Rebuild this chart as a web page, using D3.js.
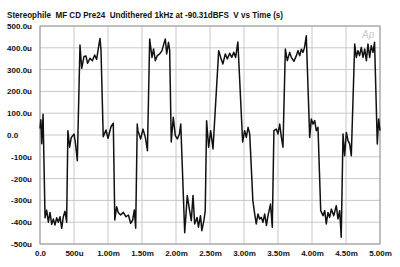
<!DOCTYPE html>
<html>
<head>
<meta charset="utf-8">
<script src="https://cdn.jsdelivr.net/npm/d3@7"></script>
<style>
  body { margin: 0; background: #fff; }
  text { font-family: "Liberation Sans", Arial, sans-serif; font-weight: bold; fill: #111; }
</style>
</head>
<body>
<svg id="chart" width="400" height="267"></svg>
<script>
// time in ms, voltage in microvolts
var timeMs = [0.000, 0.012, 0.025, 0.045, 0.060, 0.074, 0.098, 0.123, 0.147, 0.172, 0.196, 0.220, 0.245, 0.270, 0.294, 0.319, 0.343, 0.368, 0.392,
  0.410, 0.436, 0.460, 0.500, 0.520, 0.549, 0.588, 0.613, 0.647, 0.676, 0.700, 0.735, 0.770, 0.804, 0.833, 0.862, 0.882, 0.897,
  0.930, 0.970, 1.000, 1.044, 1.078, 1.100, 1.127, 1.150, 1.186, 1.225, 1.265, 1.300, 1.333, 1.363, 1.387, 1.407,
  1.430, 1.440, 1.480, 1.515, 1.550, 1.580, 1.613, 1.647, 1.670, 1.696, 1.725, 1.760, 1.794, 1.820, 1.843, 1.863, 1.890, 1.907,
  1.930, 1.960, 1.990, 2.020, 2.050, 2.070, 2.128, 2.166, 2.200, 2.225, 2.250, 2.275, 2.310, 2.330, 2.360, 2.380, 2.410, 2.430,
  2.450, 2.480, 2.510, 2.544, 2.628, 2.657, 2.690, 2.725, 2.755, 2.790, 2.820, 2.850, 2.877, 2.910,
  2.980, 3.010, 3.034, 3.060, 3.084, 3.130, 3.157, 3.180, 3.206, 3.230, 3.255, 3.280, 3.304, 3.330, 3.353, 3.390, 3.416,
  3.440, 3.475, 3.500, 3.525, 3.550, 3.573, 3.608, 3.637, 3.672, 3.696, 3.735, 3.770, 3.794, 3.820, 3.843, 3.868, 3.890, 3.916,
  3.966, 3.990, 4.015, 4.040, 4.063, 4.088, 4.128, 4.162, 4.187, 4.210, 4.235, 4.260, 4.284, 4.320, 4.357, 4.382, 4.407, 4.430,
  4.456, 4.480, 4.505, 4.530, 4.554, 4.578, 4.628, 4.652, 4.676, 4.700, 4.725, 4.750, 4.775, 4.800, 4.823, 4.848, 4.872, 4.897, 4.920,
  4.960, 4.980, 5.000];
var voltageUv = [30, 70, -40, 95, -150, -380, -345, -400, -355, -410, -385, -413, -380, -400, -375, -428, -375, -350, -400,
  20, -56, -11, 4, -34, -118, 413, 306, 360, 362, 329, 352, 341, 367, 347, 405, 443, 390,
  -8, 23, -15, 38, 54, -390, -329, -355, -367, -355, -375, -367, -405, -390, -344, -428,
  50, 20, -18, 27, -12, -72, 440, 356, 394, 341, 364, 372, 387, 417, 440, 372, 425, 387,
  -32, 81, -3, -18, 5, 50, -448, -278, -347, -393, -278, -408, -378, -423, -370, -439, -393, -347,
  65, -56, 20, -64, 387, 356, 326, 372, 349, 375, 356, 379, 356, 427,
  -32, 20, -11, 35, 5, -300, -362, -408, -362, -385, -378, -400, -362, -415, -370, -317, -423,
  20, 27, 5, 50, -11, -56, 394, 341, 379, 356, 338, 364, 387, 364, 394, 379, 402, 455,
  -11, 73, 50, 66, 20, 35, -347, -370, -347, -408, -355, -378, -340, -370, -324, -385, -347, -469,
  5, -95, 12, -26, -41, -95, 417, 356, 387, 364, 402, 356, 394, 341, 417, 356, 410, 379, 425,
  -41, 73, 20];

var xTicks = [0, 0.5, 1, 1.5, 2, 2.5, 3, 3.5, 4, 4.5, 5];
var xTickLabels = ["0.0", "500u", "1.00m", "1.50m", "2.00m", "2.50m", "3.00m", "3.50m", "4.00m", "4.50m", "5.00m"];
var yTicks = [500, 400, 300, 200, 100, 0, -100, -200, -300, -400, -500];
var yTickLabels = ["500.0u", "400.0u", "300.0u", "200.0u", "100.0u", "0.0", "-100u", "-200u", "-300u", "-400u", "-500u"];

var title = "Stereophile  MF CD Pre24  Undithered 1kHz at -90.31dBFS  V vs Time (s)";

function drawChart() {
    var svg = d3.select("#chart"),
        plotL = 40, plotR = 380, plotT = 26, plotB = 244;

    var x = d3.scaleLinear().domain([0, 5]).range([plotL, plotR]);
    var y = d3.scaleLinear().domain([-500, 500]).range([plotB, plotT]);

    // grid
    svg.append("g").selectAll("line").data(xTicks).enter().append("line")
        .attr("x1", d => x(d)).attr("x2", d => x(d))
        .attr("y1", plotT).attr("y2", plotB)
        .attr("stroke", "#c8c8c8").attr("stroke-width", 1);
    svg.append("g").selectAll("line").data(yTicks).enter().append("line")
        .attr("x1", plotL).attr("x2", plotR)
        .attr("y1", d => y(d)).attr("y2", d => y(d))
        .attr("stroke", "#c8c8c8").attr("stroke-width", 1);

    // frame
    svg.append("rect")
        .attr("x", plotL).attr("y", plotT)
        .attr("width", plotR - plotL).attr("height", plotB - plotT)
        .attr("fill", "none").attr("stroke", "#999").attr("stroke-width", 1);

    // tick labels
    var xAxis = d3.axisBottom(x).tickValues(xTicks)
        .tickFormat((d, i) => xTickLabels[i]).tickSize(0).tickPadding(6);
    var gx = svg.append("g").attr("transform", "translate(0," + plotB + ")").call(xAxis);
    gx.select(".domain").remove();
    gx.selectAll("text").style("font-size", "8px").style("font-family", "'Liberation Sans', Arial, sans-serif")
        .style("font-weight", "bold").attr("fill", "#111");

    var yAxis = d3.axisLeft(y).tickValues(yTicks)
        .tickFormat((d, i) => yTickLabels[i]).tickSize(0).tickPadding(8);
    var gy = svg.append("g").attr("transform", "translate(" + plotL + ",0)").call(yAxis);
    gy.select(".domain").remove();
    gy.selectAll("text").style("font-size", "8px").style("font-family", "'Liberation Sans', Arial, sans-serif")
        .style("font-weight", "bold").attr("fill", "#111");
    gy.selectAll("text").filter((d, i) => yTickLabels[i] === "0.0")
        .attr("text-anchor", "start").attr("x", 7 - plotL);

    // title
    svg.append("text").attr("x", 7).attr("y", 18)
        .style("font-size", "8.5px")
        .style("white-space", "pre")
        .attr("textLength", 276).attr("lengthAdjust", "spacingAndGlyphs")
        .text(title);

    // Ap logo
    svg.append("text").attr("x", 362).attr("y", 38)
        .style("font-size", "10px").style("font-style", "italic").style("font-weight", "normal")
        .style("fill", "#c8c8c8")
        .text("Ap");

    // waveform
    var line = d3.line().x((d, i) => x(timeMs[i])).y(d => y(d));
    svg.append("path").datum(voltageUv)
        .attr("d", line)
        .attr("fill", "none").attr("stroke", "#111").attr("stroke-width", 1.5)
        .attr("stroke-linejoin", "round");
}

drawChart();
</script>
</body>
</html>
